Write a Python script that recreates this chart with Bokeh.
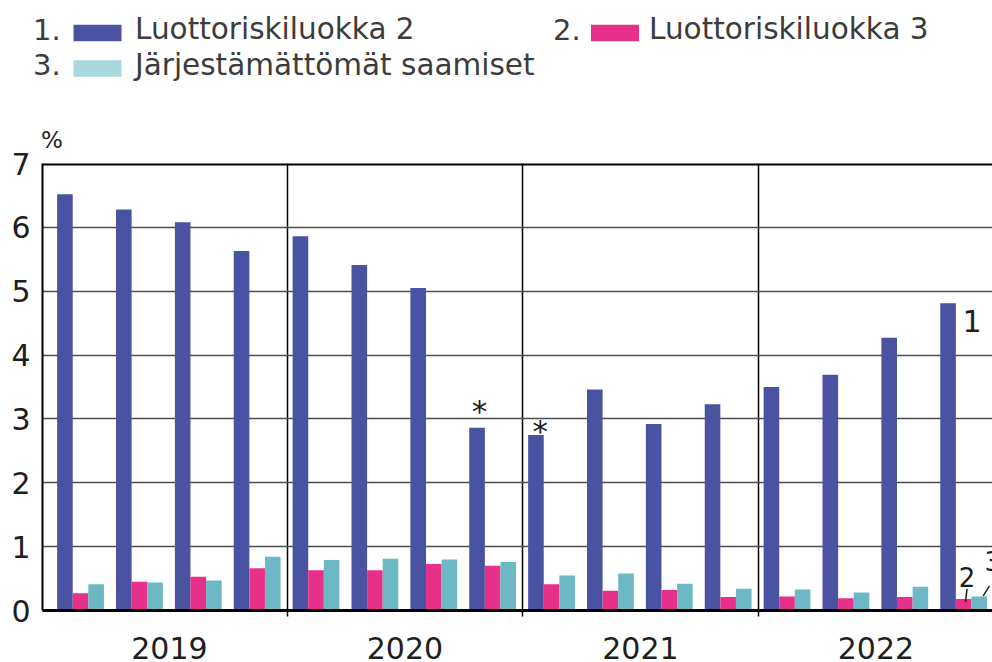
from bokeh.plotting import figure
from bokeh.models import Range1d, FixedTicker
from bokeh.embed import file_html
from bokeh.resources import INLINE
from bokeh.core.properties import value

# ---------------- data ----------------
years = ["2019", "2020", "2021", "2022"]
credit_class_2 = [6.52, 6.28, 6.08, 5.63, 5.86, 5.41, 5.05, 2.86,
                  2.75, 3.46, 2.92, 3.23, 3.50, 3.69, 4.27, 4.81]
credit_class_3 = [0.27, 0.45, 0.53, 0.66, 0.63, 0.63, 0.73, 0.70,
                  0.41, 0.31, 0.32, 0.21, 0.22, 0.19, 0.21, 0.18]
non_performing = [0.41, 0.44, 0.47, 0.84, 0.79, 0.81, 0.80, 0.76,
                  0.55, 0.58, 0.42, 0.34, 0.33, 0.28, 0.37, 0.22]
series_labels = ["Luottoriskiluokka 2", "Luottoriskiluokka 3", "Järjestämättömät saamiset"]
series_numbers = ["1.", "2.", "3."]
starred_quarters = [7, 8]
y_ticks = [0, 1, 2, 3, 4, 5, 6, 7]
unit_label = "%"

# ---------------- style ----------------
FONT = value("DejaVu Sans")
BLUE = "#4a52a2"
PINK = "#e6308a"
CYAN = "#6cb8c5"
CYAN_LEG = "#a6d8dc"
TXT = "#3c3c3c"
DARK = "#1e1e1e"
W = 992

n = len(credit_class_2)
bw = 0.265
centers = [k + 0.49 for k in range(n)]
x_blue = [c - bw for c in centers]
x_pink = centers
x_cyan = [c + bw for c in centers]

# ---------------- header figure (legend + unit) ----------------
LEG_H = 150
leg = figure(width=W, height=LEG_H, x_range=Range1d(0, W), y_range=Range1d(LEG_H, 0),
             output_backend="svg", toolbar_location=None,
             min_border=0, min_border_left=0, min_border_right=0,
             min_border_top=0, min_border_bottom=0,
             x_axis_location=None, y_axis_location=None)
leg.grid.visible = False
leg.outline_line_color = None

num_x = [32.5, 552.5, 32.5]
sw_left = [73.0, 590.5, 73.0]
txt_x = [134.5, 648.5, 134.5]
mid_y = [28.5, 28.5, 64.0]
sw_colors = [BLUE, PINK, CYAN_LEG]
leg.quad(left=sw_left, right=[x + 48 for x in sw_left],
         top=[y - 4.3 for y in mid_y], bottom=[y + 12.2 for y in mid_y],
         color=sw_colors, line_color=None)
leg.text(x=num_x, y=mid_y, text=series_numbers, text_font=FONT, text_font_size="29px",
         text_baseline="middle", text_align="left", text_color=TXT)
leg.text(x=txt_x, y=mid_y, text=series_labels, text_font=FONT,
         text_font_size="29.5px", text_baseline="middle", text_align="left", text_color=TXT)
leg.text(x=[40.5], y=[139.5], text=[unit_label], text_font=FONT, text_font_size="23px",
         text_baseline="middle", text_align="left", text_color=DARK)

# ---------------- main figure ----------------
X0 = -0.156
X1 = X0 + 950 / 58.875
p = figure(width=W, height=662 - LEG_H, x_range=Range1d(X0, X1), y_range=Range1d(0, 7),
           output_backend="svg", toolbar_location=None,
           min_border_left=42, min_border_right=0, min_border_top=13, min_border_bottom=52)
p.outline_line_color = None
p.background_fill_color = "white"

# grids
p.ygrid.ticker = FixedTicker(ticks=y_ticks)
p.ygrid.grid_line_color = "#4d4d4d"
p.ygrid.grid_line_width = 1.5
p.xgrid.ticker = FixedTicker(ticks=[4 * i for i in range(1, len(years))])
p.xgrid.grid_line_color = "black"
p.xgrid.grid_line_width = 1.5

p.vbar(x=x_blue, top=credit_class_2, width=bw, bottom=0, color=BLUE, line_color=None)
p.vbar(x=x_pink, top=credit_class_3, width=bw, bottom=0, color=PINK, line_color=None)
p.vbar(x=x_cyan, top=non_performing, width=bw, bottom=0, color=CYAN, line_color=None)

# top border
p.segment(x0=[X0], y0=[7], x1=[X1], y1=[7], line_color="black", line_width=4)

# y axis
p.yaxis.ticker = FixedTicker(ticks=y_ticks)
p.yaxis.major_label_text_font = "DejaVu Sans"
p.yaxis.major_label_text_font_size = "30px"
p.yaxis.major_label_text_color = DARK
p.yaxis.major_tick_out = 0
p.yaxis.major_tick_in = 0
p.yaxis.minor_tick_out = 0
p.yaxis.minor_tick_in = 0
p.yaxis.axis_line_width = 2
p.yaxis.axis_line_color = "black"
p.yaxis.major_label_standoff = 12

# x axis (year labels at mid-year, separators as minor ticks)
year_ticks = [4 * i + 2 for i in range(len(years))]
p.xaxis.ticker = FixedTicker(ticks=year_ticks, minor_ticks=[4 * i for i in range(1, len(years))])
p.xaxis.major_label_overrides = {t: y for t, y in zip(year_ticks, years)}
p.xaxis.major_label_text_font = "DejaVu Sans"
p.xaxis.major_label_text_font_size = "30px"
p.xaxis.major_label_text_color = DARK
p.xaxis.major_tick_out = 0
p.xaxis.major_tick_in = 0
p.xaxis.minor_tick_out = 6
p.xaxis.minor_tick_in = 0
p.xaxis.minor_tick_line_color = "black"
p.xaxis.minor_tick_line_width = 1.5
p.xaxis.axis_line_width = 3
p.xaxis.axis_line_color = "black"
p.xaxis.major_label_standoff = 20

# stars
star_dx = [0.041, 0.075]
star_dy = [0.267, 0.064]
p.text(x=[x_blue[q] + dx for q, dx in zip(starred_quarters, star_dx)],
       y=[credit_class_2[q] + dy for q, dy in zip(starred_quarters, star_dy)],
       text=["*", "*"], text_font=FONT, text_font_size="31px", text_align="center",
       text_baseline="middle", text_color=DARK)

# series number annotations at last quarter
last = n - 1
p.text(x=[x_blue[last] + 0.245], y=[credit_class_2[last] - 0.274], text=["1"], text_font=FONT,
       text_font_size="30px", text_align="left", text_baseline="middle", text_color=DARK)
p.text(x=[x_pink[last] + 0.059], y=[credit_class_3[last] + 0.348], text=["2"], text_font=FONT,
       text_font_size="26px", text_align="center", text_baseline="middle", text_color=DARK)
p.text(x=[x_cyan[last] + 0.089], y=[non_performing[last] + 0.558], text=["3"], text_font=FONT,
       text_font_size="26px", text_align="left", text_baseline="middle", text_color=DARK)
p.segment(x0=[x_pink[last] + 0.057, x_cyan[last] + 0.174],
          y0=[credit_class_3[last] + 0.16, non_performing[last] + 0.166],
          x1=[x_pink[last] + 0.031, x_cyan[last] + 0.067],
          y1=[credit_class_3[last] - 0.045, non_performing[last] + 0.01],
          line_color=DARK, line_width=1.5)

open("out.html", "w").write(file_html([leg, p], INLINE))
